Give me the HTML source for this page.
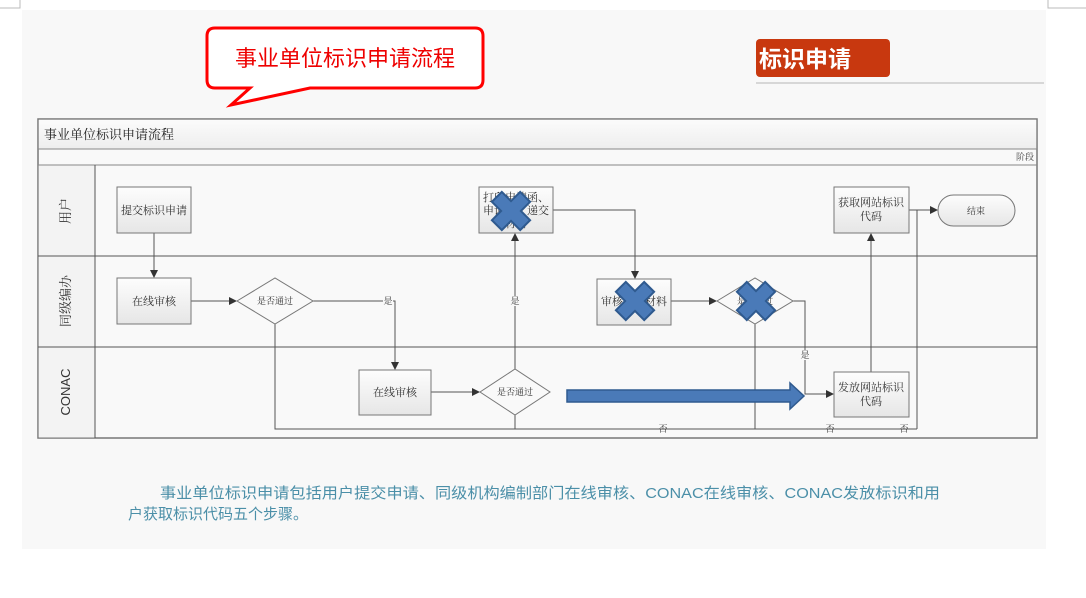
<!DOCTYPE html>
<html><head><meta charset="utf-8"><style>
html,body{margin:0;padding:0;background:#fff;width:1086px;height:598px;overflow:hidden}
svg text{font-family:"Liberation Serif","Noto Serif CJK SC",serif}
svg text.s{font-family:"Liberation Sans","Noto Sans CJK SC",sans-serif}
</style></head><body>
<svg width="1086" height="598" viewBox="0 0 1086 598" xmlns="http://www.w3.org/2000/svg">
<defs>
<marker id="a" markerWidth="8" markerHeight="8" refX="7" refY="4" orient="auto" markerUnits="userSpaceOnUse"><path d="M0,0 L8,4 L0,8z" fill="#333"/></marker>
<linearGradient id="g" x1="0" y1="0" x2="0" y2="1"><stop offset="0" stop-color="#fdfdfd"/><stop offset="1" stop-color="#e6e6e6"/></linearGradient>
<g id="x"><path d="M-7,-20 L7,-20 L7,-7 L20,-7 L20,7 L7,7 L7,20 L-7,20 L-7,7 L-20,7 L-20,-7 L-7,-7z" transform="rotate(45)" fill="#4a7ab8" stroke="#2f5a8f" stroke-width="2"/></g>
</defs>
<rect x="22" y="10" width="1024" height="539" fill="#f8f8f8"/>
<path d="M20,0 V8 H0 M1048,0 V8 H1086" stroke="#bbb" fill="none"/>
<path d="M215,28 H475 Q483,28 483,36 V80 Q483,88 475,88 H310 L231,105 L250,88 H215 Q207,88 207,80 V36 Q207,28 215,28z" fill="#fff" stroke="#f00" stroke-width="3"/>
<text class="s" x="345" y="66" text-anchor="middle" font-size="22" fill="#e00">事业单位标识申请流程</text>
<rect x="756" y="39" width="134" height="38" rx="4" fill="#c8380f"/>
<text class="s" x="805" y="67" text-anchor="middle" font-size="23" font-weight="bold" fill="#fff">标识申请</text>
<line x1="756" y1="83" x2="1044" y2="83" stroke="#ccc" stroke-width="1.5"/>
<rect x="38" y="119" width="999" height="319" fill="#f9f9f9" stroke="#777" stroke-width="1.5"/>
<rect x="38.7" y="119.7" width="997.6" height="29" fill="url(#g)" opacity=".6"/>
<line x1="38" y1="149" x2="1037" y2="149" stroke="#888"/>
<line x1="38" y1="165" x2="1037" y2="165" stroke="#888"/>
<text x="44" y="139" font-size="13" fill="#222">事业单位标识申请流程</text>
<text x="1034" y="160" font-size="9" fill="#444" text-anchor="end">阶段</text>
<rect x="38.7" y="165.5" width="56" height="272" fill="#f3f3f3"/>
<line x1="38" y1="256" x2="1037" y2="256" stroke="#555"/>
<line x1="38" y1="347" x2="1037" y2="347" stroke="#555"/>
<line x1="95" y1="165" x2="95" y2="438" stroke="#555"/>
<text transform="translate(70,211) rotate(-90)" text-anchor="middle" font-size="13" fill="#333">用户</text>
<text transform="translate(70,301) rotate(-90)" text-anchor="middle" font-size="13" fill="#333">同级编办</text>
<text class="s" transform="translate(70,392) rotate(-90)" text-anchor="middle" font-size="13" fill="#333">CONAC</text>
<g stroke="#555" stroke-width="1" fill="none">
<path d="M154,233 V277" marker-end="url(#a)"/>
<path d="M191,301 H236" marker-end="url(#a)"/>
<path d="M313,301 H395 V369" marker-end="url(#a)"/>
<path d="M275,324 V429 H917"/>
<path d="M431,392 H479" marker-end="url(#a)"/>
<path d="M515,369 V234" marker-end="url(#a)"/>
<path d="M515,415 V429"/>
<path d="M553,210 H635 V278" marker-end="url(#a)"/>
<path d="M671,301 H716" marker-end="url(#a)"/>
<path d="M755,324 V429"/>
<path d="M793,301 H805 V394 H833" marker-end="url(#a)"/>
<path d="M871,372 V234" marker-end="url(#a)"/>
<path d="M909,210 H937" marker-end="url(#a)"/>
<path d="M917,210 V429"/>
</g>
<g font-size="9" fill="#333" text-anchor="middle">
<rect x="383" y="296" width="10" height="10" fill="#f9f9f9"/><text x="388" y="304">是</text>
<rect x="510" y="296" width="10" height="10" fill="#f9f9f9"/><text x="515" y="304">是</text>
<rect x="800" y="350" width="10" height="10" fill="#f9f9f9"/><text x="805" y="358">是</text>
<text x="663" y="432">否</text><text x="830" y="432">否</text><text x="904" y="432">否</text>
</g>
<g stroke="#777" fill="url(#g)">
<rect x="117" y="187" width="74" height="46"/>
<rect x="117" y="278" width="74" height="46"/>
<rect x="359" y="370" width="72" height="45"/>
<rect x="479" y="187" width="74" height="46"/>
<rect x="597" y="279" width="74" height="46"/>
<rect x="834" y="187" width="75" height="46"/>
<rect x="834" y="372" width="75" height="45"/>
<path d="M237,301 L275,278 L313,301 L275,324z" fill="#f9f9f9"/>
<path d="M480,392 L515,369 L550,392 L515,415z" fill="#f9f9f9"/>
<path d="M717,301 L755,278 L793,301 L755,324z" fill="#f9f9f9"/>
<rect x="938" y="195" width="77" height="31" rx="15.5"/>
</g>
<g font-size="11" fill="#333" text-anchor="middle">
<text x="154" y="214">提交标识申请</text>
<text x="154" y="305">在线审核</text>
<text x="395" y="396">在线审核</text>
<text x="275" y="304" font-size="9">是否通过</text>
<text x="515" y="395" font-size="9">是否通过</text>
<text x="516" y="201">打印申请函、</text>
<text x="516" y="214">申请表，递交</text>
<text x="516" y="227">材料</text>
<text x="634" y="305">审核申请材料</text>
<text x="755" y="304" font-size="9">是否通过</text>
<text x="871" y="206">获取网站标识</text>
<text x="871" y="220">代码</text>
<text x="871" y="391">发放网站标识</text>
<text x="871" y="405">代码</text>
<text x="976" y="214" font-size="9">结束</text>
</g>
<use href="#x" x="511" y="211"/>
<use href="#x" x="635" y="301"/>
<use href="#x" x="756" y="301"/>
<path d="M567,390 H790 V383 L804,396 L790,409 V402 H567z" fill="#4a7ab8" stroke="#2f5a8f" stroke-width="1.5"/>
<text class="s" x="160" y="498" font-size="15" fill="#4b8fa8" textLength="780" lengthAdjust="spacingAndGlyphs">事业单位标识申请包括用户提交申请、同级机构编制部门在线审核、CONAC在线审核、CONAC发放标识和用</text>
<text class="s" x="128" y="519" font-size="15" fill="#4b8fa8">户获取标识代码五个步骤。</text>
</svg>
</body></html>
